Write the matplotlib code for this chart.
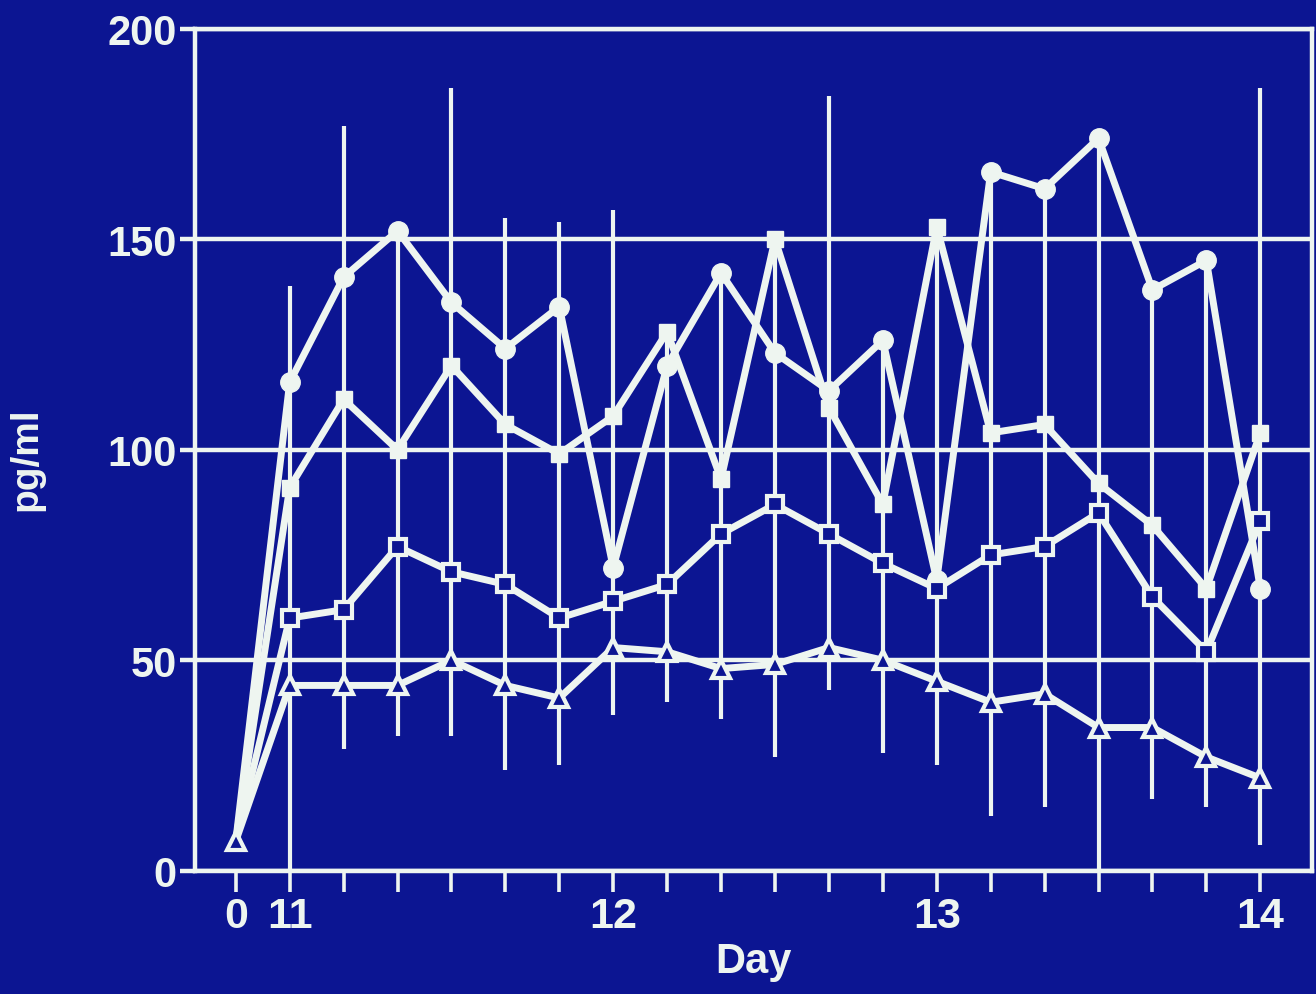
import numpy as np
import matplotlib
matplotlib.use("Agg")
import matplotlib.pyplot as plt

# sampling points: day 0 baseline, then every 4 h from day 11 to day 14
sample_pos = list(range(20))
tick_labels = ["0", "11", "", "", "", "", "", "12", "", "", "", "", "", "13",
               "", "", "", "", "", "14"]

circles = [7, 116, 141, 152, 135, 124, 134, 72, 120, 142, 123, 114, 126, 69,
           166, 162, 174, 138, 145, 67]
big_squares = [7, 91, 112, 100, 120, 106, 99, 108, 128, 93, 150, 110, 87, 153,
               104, 106, 92, 82, 67, 104]
small_squares = [7, 60, 62, 77, 71, 68, 60, 64, 68, 80, 87, 80, 73, 67,
                 75, 77, 85, 65, 52, 83]
triangles = [7, 44, 44, 44, 50, 44, 41, 53, 52, 48, 49, 53, 50, 45,
             40, 42, 34, 34, 27, 22]

# extent of the SD bars at each sampling point
bar_top = [np.nan, 139, 177, 152, 186, 155, 154, 157, 128, 142, 150, 184, 126,
           153, 166, 162, 174, 138, 145, 186]
bar_bottom = [np.nan, 0, 29, 32, 32, 24, 25, 37, 40, 36, 27, 43, 28, 25,
              13, 15, 0, 17, 15, 6]

BG = "#0c1592"
FG = "#eef5f0"

plt.rcParams["font.family"] = ["Liberation Sans", "DejaVu Sans"]
plt.rcParams["font.weight"] = "bold"

fig = plt.figure(figsize=(13.16, 9.95), dpi=100, facecolor=BG)
ax = fig.add_axes([0.148, 0.124, 0.849, 0.846], facecolor=BG)

ax.vlines(sample_pos, bar_bottom, bar_top, color=FG, lw=3, zorder=2)

line_kw = dict(color=FG, lw=5, zorder=3)
ax.plot(sample_pos, circles, marker="o", ms=14, mfc=FG, mec=FG,
        markevery=slice(1, None), **line_kw)
ax.plot(sample_pos, big_squares, marker="s", ms=12, mfc=FG, mec=FG,
        markevery=slice(1, None), **line_kw)
ax.plot(sample_pos, small_squares, marker="s", ms=11, mfc=BG, mec=FG, mew=3,
        markevery=slice(1, None), **line_kw)
ax.plot(sample_pos, triangles, marker="^", ms=13, mfc=BG, mec=FG, mew=3,
        **line_kw)

ax.set_xlim(-0.76, 19.96)
ax.set_ylim(0, 200)

ax.set_yticks([0, 50, 100, 150, 200])
ax.set_xticks(sample_pos)
ax.set_xticklabels(tick_labels)
ax.yaxis.grid(True, color=FG, lw=3.2)
ax.set_axisbelow(True)

for side in ["left", "right", "top", "bottom"]:
    ax.spines[side].set_color(FG)
    ax.spines[side].set_linewidth(3.2)

ax.tick_params(axis="x", colors=FG, direction="out", length=15, width=2.6,
               labelsize=31, pad=3)
ax.tick_params(axis="y", colors=FG, direction="out", length=11, width=3.2,
               labelsize=30, pad=2)

ax.set_xlabel("Day", color=FG, fontsize=30, fontweight="bold", labelpad=4)
ax.set_ylabel("pg/ml", color=FG, fontsize=28, fontweight="bold")
ax.yaxis.set_label_coords(-0.135, 0.49)

fig.savefig("out.png", dpi=100, facecolor=BG)
